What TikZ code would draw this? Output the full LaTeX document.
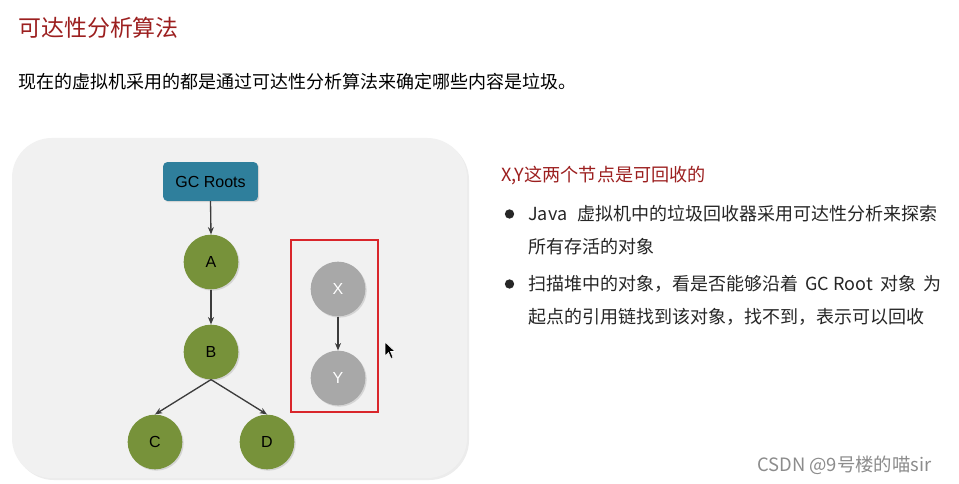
\documentclass[tikz,border=0pt]{standalone}
\usepackage{fontspec}
\setmainfont{Liberation Sans}
\newfontfamily\cjk{Noto Sans CJK SC}
\usetikzlibrary{arrows.meta,shadows}
\definecolor{titlered}{HTML}{9C1F1F}
\definecolor{bodytext}{HTML}{262626}
\definecolor{panelgray}{HTML}{F1F1F1}
\definecolor{rootblue}{HTML}{2F7F9C}
\definecolor{nodegreen}{HTML}{77923A}
\definecolor{nodegray}{HTML}{A8A8A8}
\definecolor{arrowgray}{HTML}{3C3C3C}
\definecolor{boxred}{HTML}{D9262B}
\definecolor{wmgray}{HTML}{8C8C8C}
\tikzset{
  livenode/.style={circle, fill=nodegreen, minimum size=41pt, inner sep=0pt,
    font=\fontsize{12pt}{14pt}\selectfont, text=black,
    drop shadow={opacity=0.25, shadow xshift=1pt, shadow yshift=-1pt}},
  deadnode/.style={circle, fill=nodegray, minimum size=41pt, inner sep=0pt,
    font=\fontsize{12pt}{14pt}\selectfont, text=white,
    drop shadow={opacity=0.25, shadow xshift=1pt, shadow yshift=-1pt}},
  rootbox/.style={rectangle, rounded corners=3pt, fill=rootblue, minimum width=71pt,
    minimum height=29pt, inner sep=0pt, font=\fontsize{12pt}{14pt}\selectfont, text=black,
    drop shadow={opacity=0.25, shadow xshift=1pt, shadow yshift=-1pt}},
  link/.style={draw=arrowgray, line width=1pt, -{Stealth[length=5.5pt,width=4.5pt]}},
  bodyline/.style={anchor=west, inner sep=0pt, text=bodytext, font=\cjk\fontsize{13.5pt}{16pt}\selectfont},
  bulletdot/.style={circle, fill=bodytext, minimum size=7pt, inner sep=0pt}
}
\begin{document}
\begin{tikzpicture}[x=0.75pt, y=-0.75pt]
\useasboundingbox (0,0) rectangle (959,484);
\fill[white] (0,0) rectangle (959,484);

% titles
\node[anchor=west, inner sep=0pt, text=titlered, font=\cjk\fontsize{17.2pt}{20pt}\selectfont] (title) at (18,28) {可达性分析算法};
\node[anchor=west, inner sep=0pt, text=black, font=\cjk\fontsize{13.5pt}{16pt}\selectfont] (sub) at (18,82) {现在的虚拟机采用的都是通过可达性分析算法来确定哪些内容是垃圾。};

% panel
\fill[panelgray, rounded corners=30pt, drop shadow={opacity=0.15, shadow xshift=1.5pt, shadow yshift=-1.5pt}] (12,138) rectangle (467,478);

% nodes
\node[rootbox] (roots) at (210.5,181.5) {GC Roots};
\node[livenode] (A) at (211,262) {A};
\node[livenode] (B) at (211,352) {B};
\node[livenode] (C) at (155,442) {C};
\node[livenode] (D) at (267,442) {D};
\node[deadnode] (X) at (338,289) {X};
\node[deadnode] (Y) at (338,378) {Y};
\node[draw=boxred, line width=1.2pt, minimum width=65pt, minimum height=129pt, inner sep=0pt] (redbox) at (334.5,326) {};

\draw[link] (roots.south) -- (A.north);
\draw[link] (A.south) -- (B.north);
\draw[link] (B.south) -- (C.north);
\draw[link] (B.south) -- (D.north);
\draw[link] (X.south) -- (Y.north);

% cursor
\filldraw[fill=black, draw=white, line width=0.4pt] (385,342) -- (385,356) -- (388.5,352.5) -- (391,358.5) -- (393,357.5) -- (390.5,351.5) -- (395,351.5) -- cycle;

% right text
\node[anchor=west, inner sep=0pt, text=titlered, font=\cjk\fontsize{13.6pt}{16pt}\selectfont] (xyhead) at (501,176) {X,Y这两个节点是可回收的};
\node[bulletdot] (b1) at (509.5,214) {};
\node[bodyline] (l1) at (528,214) {Java\hspace{0.6em}虚拟机中的垃圾回收器采用可达性分析来探索};
\node[bodyline] (l2) at (528,247) {所有存活的对象};
\node[bulletdot] (b2) at (509.5,284) {};
\node[bodyline] (l3) at (528,284) {扫描堆中的对象，看是否能够沿着\hspace{0.4em}GC Root\hspace{0.4em}对象\hspace{0.4em}为};
\node[bodyline] (l4) at (528,317) {起点的引用链找到该对象，找不到，表示可以回收};

% watermark
\node[anchor=west, inner sep=0pt, text=wmgray, font=\cjk\fontsize{13.8pt}{16pt}\selectfont] (wm) at (757,465) {CSDN @9号楼的喵sir};
\end{tikzpicture}
\end{document}
